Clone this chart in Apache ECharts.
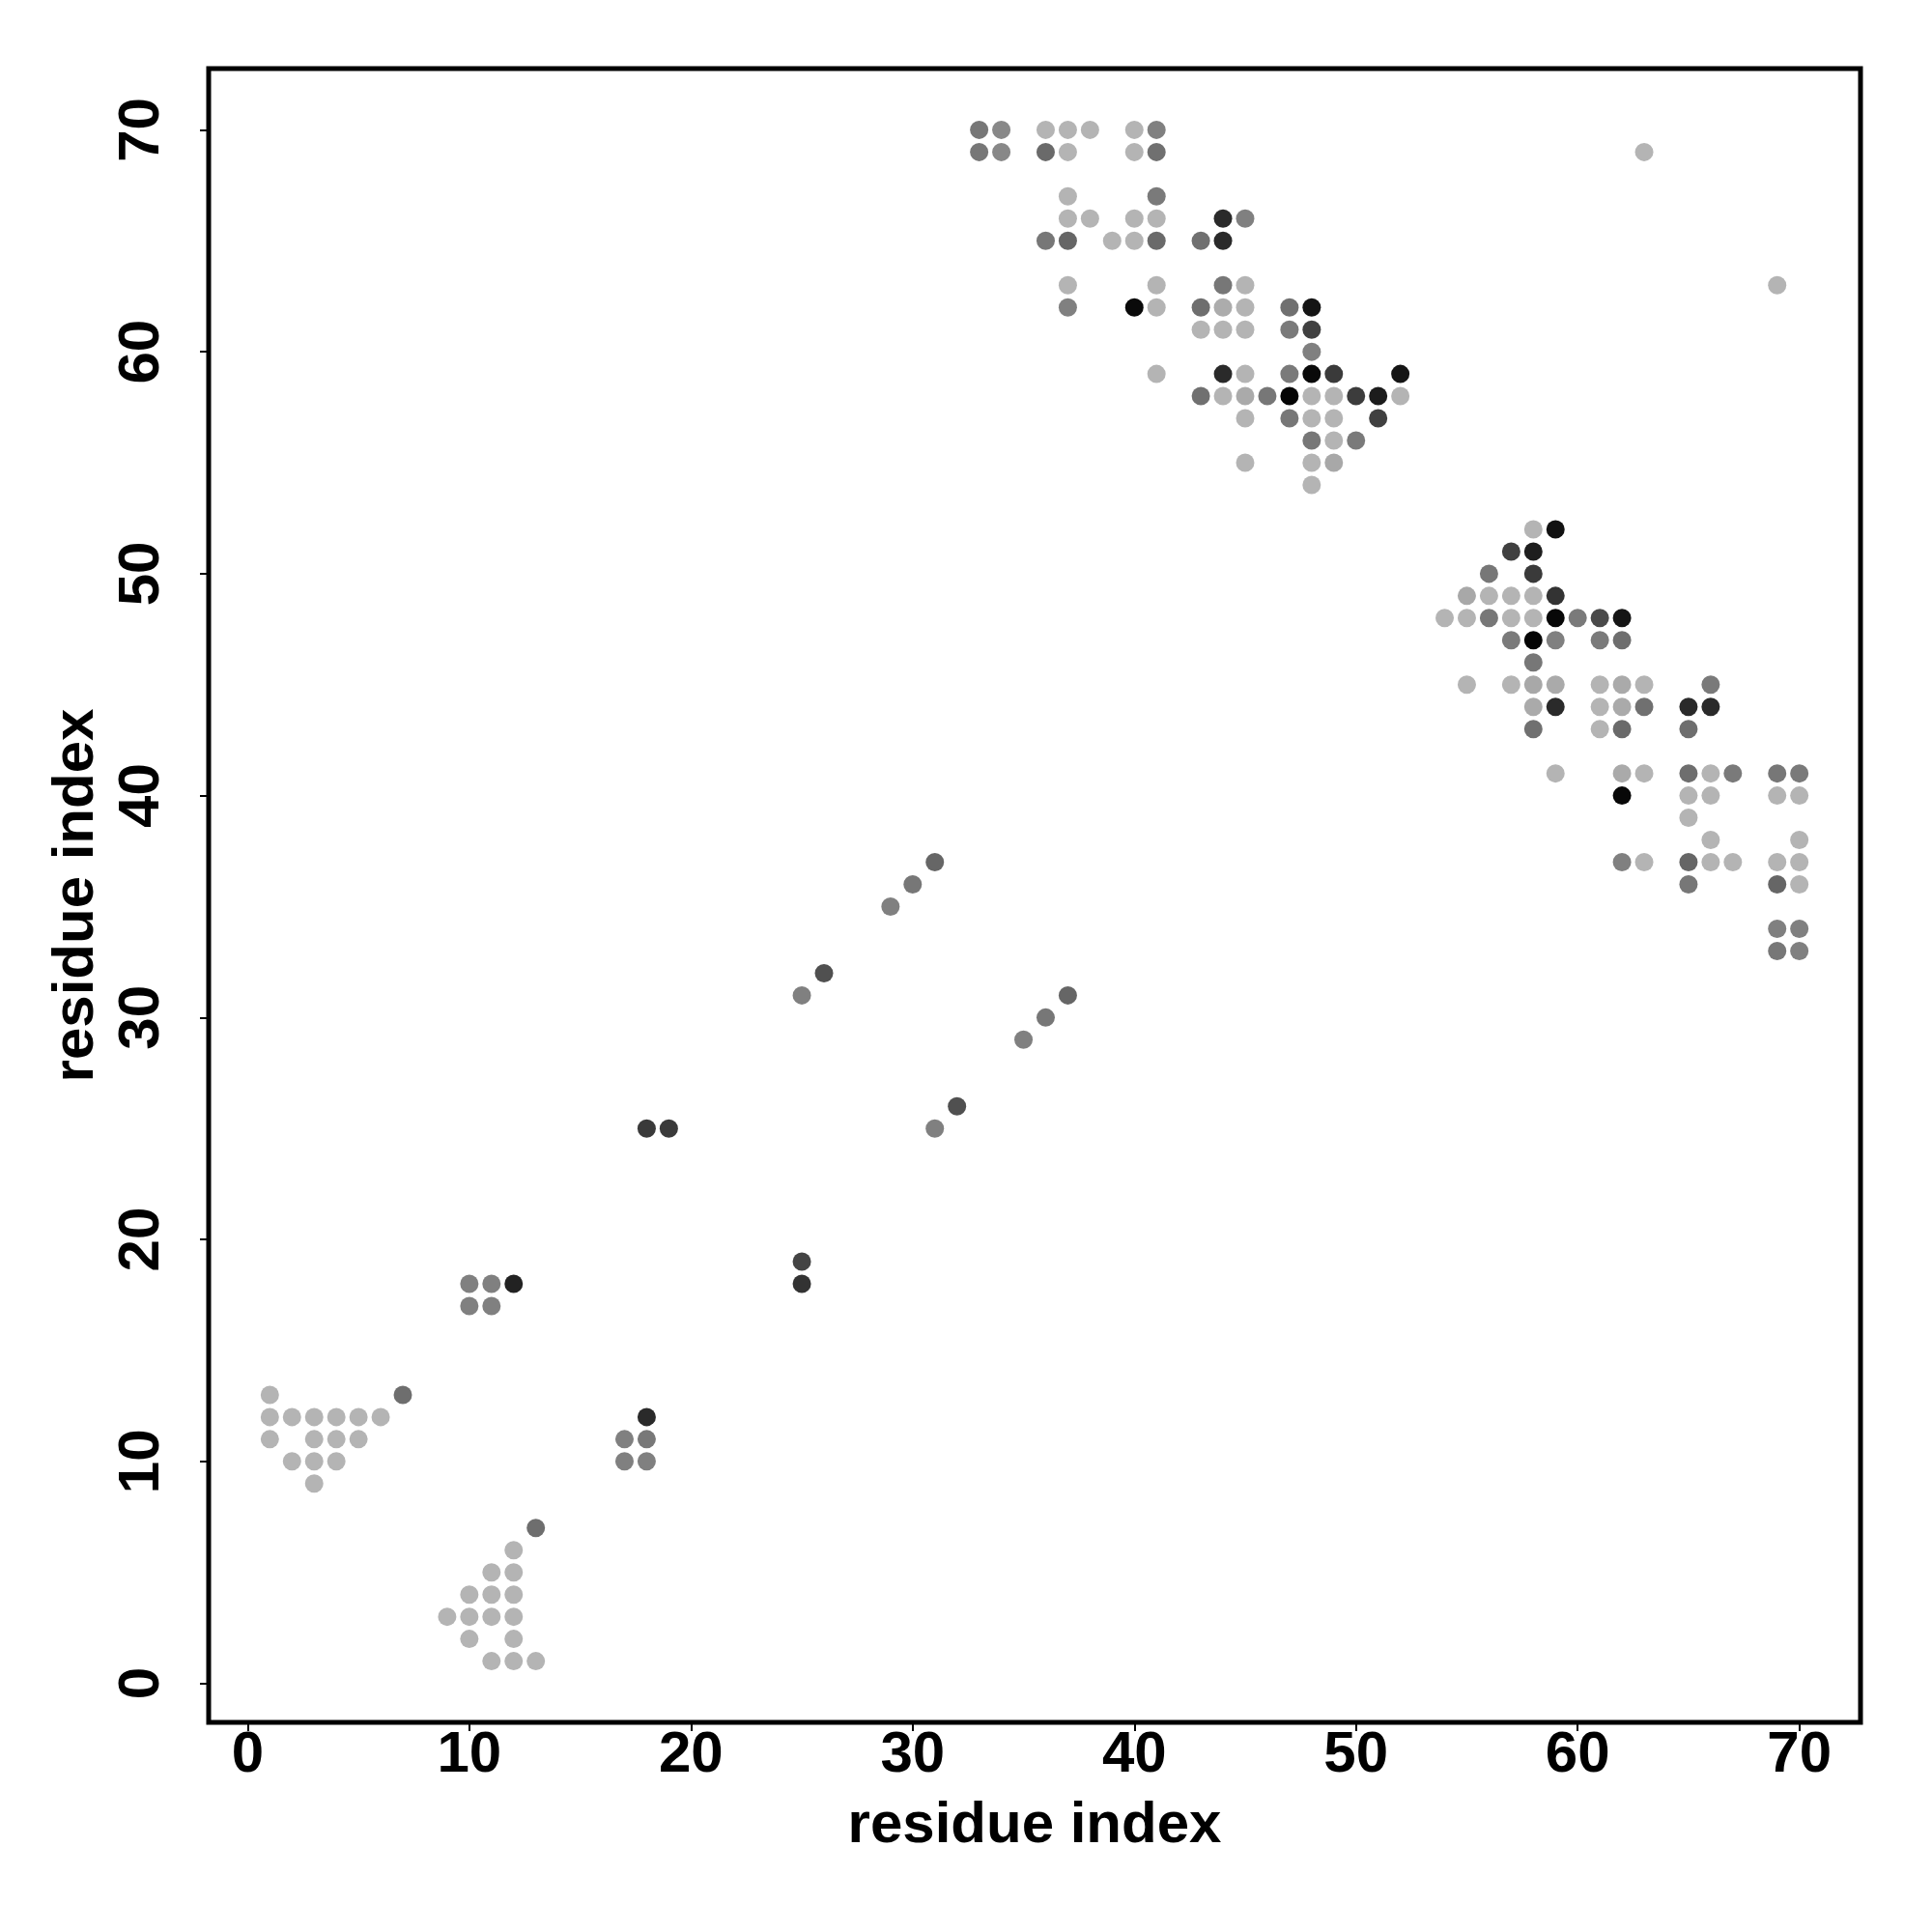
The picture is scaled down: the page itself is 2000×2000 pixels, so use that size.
<!DOCTYPE html>
<html>
<head>
<meta charset="utf-8">
<script src="https://cdn.jsdelivr.net/npm/echarts@6/dist/echarts.min.js"></script>
<style>
html,body{margin:0;padding:0;background:#fff;}
#chart{width:2000px;height:2000px;}
</style>
</head>
<body>
<div id="chart"></div>
<script>
// Each entry: [residue i, residue j, grey level (0 = black, 255 = white)]
const nTermContacts = [
  [1,13,180],[7,13,110],
  [1,12,180],[2,12,180],[3,12,180],[4,12,180],[5,12,180],[6,12,180],
  [1,11,180],[3,11,180],[4,11,180],[5,11,180],
  [2,10,180],[3,10,180],[4,10,180],
  [3,9,180],
  [13,7,110],
  [12,6,180],
  [11,5,180],[12,5,180],
  [10,4,180],[11,4,180],[12,4,180],
  [9,3,180],[10,3,180],[11,3,180],[12,3,180],
  [10,2,180],[12,2,180],
  [11,1,180],[12,1,180],[13,1,180]
];
const middleContacts = [
  [10,18,128],[11,18,128],[12,18,34],
  [10,17,128],[11,17,128],
  [18,12,42],[17,11,128],[18,11,120],[17,10,128],[18,10,128],
  [25,19,68],[25,18,51],
  [18,25,58],[19,25,58],
  [31,25,128],[32,26,80],
  [35,29,128],[36,30,119],[37,31,102],
  [25,31,128],[26,32,80],
  [29,35,128],[30,36,119],[31,37,102]
];
const topContacts = [
  [33,70,119],[34,70,136],[36,70,180],[37,70,180],[38,70,180],[40,70,180],[41,70,128],
  [33,69,119],[34,69,136],[36,69,106],[37,69,180],[40,69,180],[41,69,112],[63,69,180],
  [37,67,180],[41,67,122],
  [37,66,180],[38,66,180],[40,66,180],[41,66,180],[44,66,42],[45,66,128],
  [36,65,119],[37,65,102],[39,65,180],[40,65,180],[41,65,106],[43,65,112],[44,65,42],
  [37,63,180],[41,63,180],[44,63,119],[45,63,180],[69,63,180],
  [37,62,128],[40,62,10],[41,62,180],[43,62,110],[44,62,172],[45,62,180],[47,62,112],[48,62,21],
  [43,61,180],[44,61,180],[45,61,180],[47,61,122],[48,61,64],
  [48,60,128],
  [41,59,180],[44,59,42],[45,59,180],[47,59,122],[48,59,10],[49,59,58],[52,59,21],
  [43,58,112],[44,58,180],[45,58,170],[46,58,119],[47,58,5],[48,58,180],[49,58,180],[50,58,60],[51,58,28],[52,58,180],
  [45,57,180],[47,57,119],[48,57,180],[49,57,180],[51,57,64],
  [48,56,119],[49,56,180],[50,56,122],
  [45,55,180],[48,55,180],[49,55,168],
  [48,54,180]
];
const rightContacts = [
  [58,52,180],[59,52,17],
  [57,51,64],[58,51,30],
  [56,50,119],[58,50,58],
  [55,49,168],[56,49,180],[57,49,180],[58,49,180],[59,49,51],
  [54,48,180],[55,48,180],[56,48,119],[57,48,180],[58,48,180],[59,48,8],[60,48,122],[61,48,74],[62,48,21],
  [57,47,122],[58,47,5],[59,47,128],[61,47,122],[62,47,110],
  [58,46,119],
  [55,45,180],[57,45,180],[58,45,168],[59,45,170],[61,45,180],[62,45,170],[63,45,180],[66,45,122],
  [58,44,170],[59,44,42],[61,44,180],[62,44,170],[63,44,112],[65,44,42],[66,44,42],
  [58,43,112],[61,43,180],[62,43,106],[65,43,110],
  [59,41,180],[62,41,170],[63,41,180],[65,41,110],[66,41,180],[67,41,122],[69,41,119],[70,41,122],
  [62,40,8],[65,40,180],[66,40,180],[69,40,180],[70,40,180],
  [65,39,180],
  [66,38,180],[70,38,180],
  [62,37,128],[63,37,180],[65,37,102],[66,37,180],[67,37,180],[69,37,180],[70,37,180],
  [65,36,119],[69,36,102],[70,36,180],
  [69,34,128],[70,34,128],
  [69,33,119],[70,33,128]
];
const tickValues = [0,10,20,30,40,50,60,70];
const axisTitle = 'residue index';

const allPoints = nTermContacts.concat(middleContacts, topContacts, rightContacts);
const greyColor = function (p) {
  const g = p.data[2];
  return 'rgb(' + g + ',' + g + ',' + g + ')';
};
const FONT = 'Liberation Sans, Arial, Helvetica, sans-serif';

const chart = echarts.init(document.getElementById('chart'), null, {renderer: 'canvas'});
chart.setOption({
  animation: false,
  backgroundColor: '#ffffff',
  grid: {
    left: 216, right: 74, top: 71, bottom: 217,
    show: true, borderColor: '#000', borderWidth: 5, backgroundColor: 'transparent'
  },
  xAxis: {
    type: 'value', min: -1.76, max: 72.76,
    name: axisTitle, nameLocation: 'middle', nameGap: 77,
    nameTextStyle: {fontFamily: FONT, fontWeight: 'bold', fontSize: 60, color: '#000'},
    axisLine: {show: false, onZero: false},
    splitLine: {show: false},
    axisTick: {show: true, customValues: tickValues, length: 9, lineStyle: {color: '#000', width: 2}},
    axisLabel: {customValues: tickValues, margin: 4, fontFamily: FONT, fontWeight: 'bold', fontSize: 60, color: '#000'}
  },
  yAxis: {
    type: 'value', min: -1.76, max: 72.76,
    name: axisTitle, nameLocation: 'middle', nameGap: 107, nameRotate: 90,
    nameTextStyle: {fontFamily: FONT, fontWeight: 'bold', fontSize: 60, color: '#000'},
    axisLine: {show: false, onZero: false},
    splitLine: {show: false},
    axisTick: {show: true, customValues: tickValues, length: 9, lineStyle: {color: '#000', width: 2}},
    axisLabel: {customValues: tickValues, rotate: 90, margin: 39, fontFamily: FONT, fontWeight: 'bold', fontSize: 60, color: '#000'}
  },
  series: [{
    type: 'scatter',
    data: allPoints,
    symbol: 'circle',
    symbolSize: 19,
    itemStyle: {color: greyColor, opacity: 1},
    emphasis: {disabled: true}
  }]
});
</script>
</body>
</html>
